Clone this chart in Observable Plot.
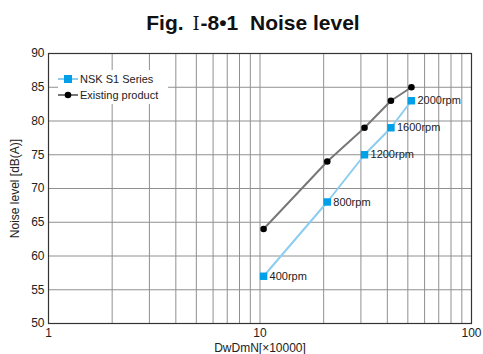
<!DOCTYPE html>
<html><head><meta charset="utf-8">
<script src="https://cdn.jsdelivr.net/npm/d3@7"></script>
<script src="https://cdn.jsdelivr.net/npm/@observablehq/plot@0.6"></script>
<style>
body{margin:0;background:#fff;font-family:"Liberation Sans",Arial,sans-serif;}
#wrap{position:relative;width:483px;height:354px;}
#title{position:absolute;left:0;top:0;width:483px;height:40px;text-align:center;font-weight:bold;font-size:21px;line-height:21px;padding-top:12px;box-sizing:border-box;padding-left:23px;color:#111;white-space:pre;}
#title .rn{font-family:"DejaVu Serif","Liberation Serif",serif;font-weight:normal;font-size:18px;margin:0 1px 0 3px;}
#chart{position:absolute;left:0;top:40px;}
#legend{position:absolute;left:58px;top:70px;width:110px;height:34px;background:#fff;font-size:11px;color:#222;}
#legend .row{display:flex;align-items:center;height:14px;margin-top:2px;}
#legend svg{margin-right:2px;}
</style></head>
<body>
<div id="wrap">
<div id="title">Fig. <span class="rn">Ⅰ</span>-8•1  Noise level</div>
<div id="chart"></div>
<div id="legend">
 <div class="row"><svg width="20" height="10"><line x1="0" y1="5" x2="20" y2="5" stroke="#8ccdf0" stroke-width="2"/><rect x="6" y="1" width="8" height="8" fill="#00a0e9"/></svg>NSK S1 Series</div>
 <div class="row"><svg width="20" height="10"><line x1="0" y1="5" x2="20" y2="5" stroke="#777" stroke-width="2"/><circle cx="10" cy="5" r="3.3" fill="#000"/></svg>Existing product</div>
</div>
</div>
<script>
const speeds = [10.4, 20.8, 31.2, 41.6, 52];
const rpmLabels = ["400rpm", "800rpm", "1200rpm", "1600rpm", "2000rpm"];
const nskNoise = [57, 68, 75, 79, 83];
const existingNoise = [64, 74, 79, 83, 85];
const xTicks = [1, 5, 10, 50, 100];
const xGrid = [1,2,3,4,5,6,7,8,9,10,20,30,40,50,60,70,80,90,100];
const yTicks = [50,55,60,65,70,75,80,85,90];

const nsk = speeds.map((x,i)=>({x, y:nskNoise[i], label:rpmLabels[i]}));
const existing = speeds.map((x,i)=>({x, y:existingNoise[i]}));

const chart = Plot.plot({
  width: 483,
  height: 314,
  marginLeft: 48,
  marginRight: 12,
  marginTop: 13,
  marginBottom: 31,
  style: {fontFamily: "'Liberation Sans', Arial, sans-serif", fontSize: "12px", color: "#222", background: "#fff"},
  x: {type: "log", domain: [1, 100]},
  y: {domain: [50, 90]},
  marks: [
    Plot.gridX(xGrid, {stroke: "#909090", strokeOpacity: 1, strokeWidth: 1}),
    Plot.gridY(yTicks, {stroke: "#909090", strokeOpacity: 1, strokeWidth: 1}),
    Plot.frame({stroke: "#333", strokeWidth: 1.2}),
    Plot.axisX(xTicks, {tickSize: 0, tickPadding: 5, tickFormat: d => String(d), fontSize: 12,
      label: "DwDmN[×10000]", labelAnchor: "center", labelArrow: "none", labelOffset: 28}),
    Plot.axisY(yTicks, {tickSize: 0, tickPadding: 4, fontSize: 12,
      label: "Noise level [dB(A)]", labelAnchor: "center", labelArrow: "none", labelOffset: 38}),
    Plot.line(existing, {x: "x", y: "y", stroke: "#777", strokeWidth: 2}),
    Plot.dot(existing, {x: "x", y: "y", fill: "#000", r: 3.3}),
    Plot.line(nsk, {x: "x", y: "y", stroke: "#8ccdf0", strokeWidth: 2}),
    Plot.dot(nsk, {x: "x", y: "y", fill: "#00a0e9", symbol: "square", r: 4.2}),
    Plot.text(nsk, {x: "x", y: "y", text: "label", textAnchor: "start", dx: 6, fontSize: 11, fill: "#222"})
  ]
});
document.getElementById("chart").appendChild(chart);
</script>
</body></html>
